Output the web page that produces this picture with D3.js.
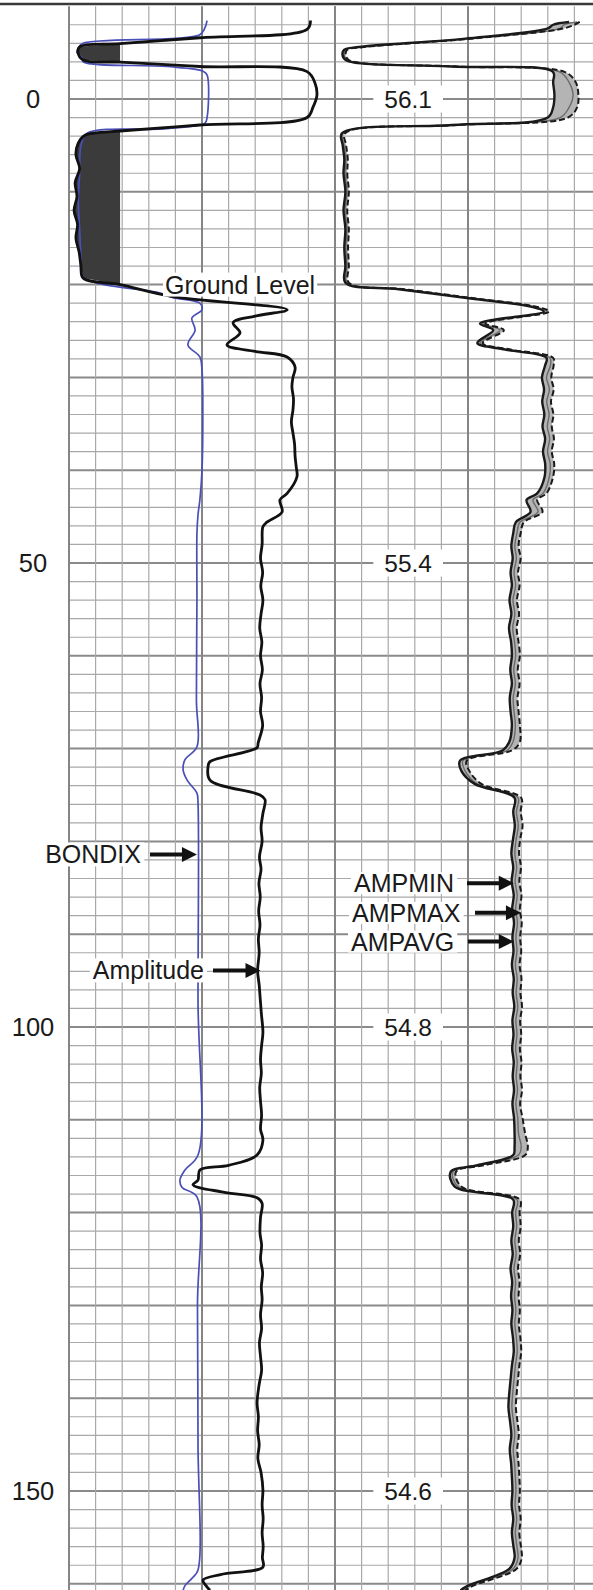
<!DOCTYPE html>
<html><head><meta charset="utf-8">
<script src="https://cdn.jsdelivr.net/npm/d3@7"></script>
<style>body{margin:0;background:#fff}svg{display:block}</style>
</head><body><svg id="c" width="593" height="1590"></svg>
<script>
// ---------------- data ----------------
const depthLabels = [0, 50, 100, 150];
const timeLabels = ["56.1", "55.4", "54.8", "54.6"];

// Amplitude (left track, black) – depth / value (0..100 scale)
const ampDepth = [
  -8.45, -7.5, -6.6, -5.97, -5.64, -5.0, -4.2, -3.97, -3.5, -2.95,
  -1.7, -0.4, 0.9, 2.0, 2.8, 3.45, 3.6, 3.9, 4.8, 6.0,
  7.5, 9.0, 10.5, 12.0, 13.5, 15.0, 16.5, 18.0, 19.3, 20.0,
  21.3, 22.7, 23.4, 24.1, 25.2, 26.5, 27.2, 27.8, 28.9, 30,
  31, 32.3, 33.5, 34.8, 36.0, 37.2, 38.5, 39.6, 40.7, 42.5,
  43.2, 44.5, 45.6, 46.1, 48, 49.5, 51, 52.5, 54, 55.5,
  57, 58.5, 60, 61.5, 63, 64.5, 66, 67.5, 69.4, 69.9,
  71.4, 71.9, 73.4, 75.0, 75.5, 77, 78.5, 80, 81.7, 83,
  84.5, 86, 87.5, 89, 90.5, 92, 93.9, 95.5, 97, 98.5,
  100.6, 102, 103.5, 105, 106.5, 108, 109.5, 111, 112.2, 113.8,
  114.9, 115.4, 116.5, 117.0, 117.8, 118.4, 119.0, 120.5, 122.2, 123.5,
  125, 126.5, 128, 129.4, 131, 132.5, 134, 135.5, 137, 138.5,
  140.5, 142, 143.5, 145, 146.5, 148, 149.9, 151.5, 153, 154.5,
  156, 157.2, 158.2, 159.0, 159.6, 160.2, 160.7
];
const amplitude = [
  90.8, 89.5, 49.2, 19.2, 4.1, 3.4, 5.3, 19.2, 49.2, 89.5,
  92.5, 93.2, 91.7, 89.5, 49.2, 19.2, 11.7, 6.0, 3.4, 2.6,
  4.0, 2.3, 3.0, 1.9, 3.2, 2.6, 3.8, 4.5, 5.3, 19.2,
  39.1, 82.0, 70.0, 61.7, 64.3, 59.4, 70.0, 82.0, 85.0, 84.2,
  83.8, 84.4, 84.2, 83.6, 84.2, 84.8, 85.0, 85.4, 85.7, 82.0,
  79.3, 80.1, 74.4, 72.9, 72.6, 72.0, 72.8, 72.1, 72.9, 72.2,
  71.7, 72.5, 72.0, 72.7, 71.8, 72.4, 72.0, 72.8, 71.1, 70.7,
  53.0, 52.3, 53.0, 71.8, 73.7, 72.9, 72.2, 72.6, 71.6, 72.2,
  71.4, 71.9, 71.3, 71.8, 71.2, 71.5, 70.9, 71.5, 71.9, 72.3,
  72.9, 72.4, 72.0, 72.3, 71.7, 72.0, 72.4, 72.0, 72.9, 70.7,
  60.0, 49.2, 48.5, 46.6, 58.0, 70.7, 72.6, 72.0, 71.8, 72.4,
  72.0, 72.8, 72.3, 72.6, 72.0, 72.4, 71.6, 72.0, 72.4, 71.5,
  70.7, 71.2, 70.9, 71.5, 71.0, 72.2, 72.9, 72.6, 73.0, 72.6,
  73.0, 72.7, 72.9, 57.0, 50.4, 51.5, 53.0
];

// BONDIX (left track, blue) – depth / value (0..1 scale)
const bondDepth = [
  -8.45, -7.6, -6.9, -6.0, -5.5, -5.0, -4.4, -4.0, -3.5, -3.0,
  -2.6, 2.0, 2.6, 3.2, 3.7, 5.0, 8.0, 11.0, 14.0, 17.0,
  19.15, 20.9, 21.4, 22.0, 22.7, 23.6, 24.9, 26.5, 27.8, 29.2,
  35.0, 40.0, 43.2, 44.8, 46.8, 54.0, 64.8, 69.8, 71.2, 72.3,
  73.4, 74.8, 75.9, 97.1, 113.8, 115.4, 116.5, 117.3, 118.3, 130,
  145, 158.5, 159.3, 160.2, 160.7
];
const bondix = [
  0.519, 0.51, 0.49, 0.053, 0.035, 0.03, 0.05, 0.053, 0.368, 0.504,
  0.519, 0.519, 0.511, 0.368, 0.068, 0.045, 0.04, 0.035, 0.04, 0.045,
  0.053, 0.342, 0.391, 0.492, 0.50, 0.462, 0.474, 0.447, 0.492, 0.50,
  0.503, 0.50, 0.492, 0.485, 0.481, 0.481, 0.479, 0.481, 0.436, 0.429,
  0.444, 0.481, 0.485, 0.485, 0.485, 0.436, 0.417, 0.425, 0.481, 0.483,
  0.485, 0.485, 0.466, 0.436, 0.429
];

// Right track – AMPMIN / AMPMAX / AMPAVG (0..100 scale)
const ampRDepth = [
  -8.3, -8.0, -7.6, -6.5, -5.6, -5.3, -4.8, -4.2, -3.5, -2.9,
  -1.8, -0.4, 0.9, 2.0, 2.8, 3.7, 5, 6.5, 8, 10,
  12, 14, 16, 18, 19.8, 20.5, 21.5, 22.4, 22.9, 24.2,
  24.9, 26.3, 27, 27.9, 28.7, 30, 31.3, 32.6, 34, 35.3,
  36.6, 38, 39.3, 40.7, 42.5, 43.2, 44.5, 45.6, 46.8, 48.2,
  49.5, 51, 52.4, 54, 55.5, 57, 58.5, 60, 61.5, 63,
  64.5, 66, 67.5, 69.3, 70.2, 71.3, 72.4, 73.8, 75.3, 76.8,
  78.3, 79.8, 81.3, 82.8, 84.3, 85.8, 87.3, 88.8, 90.3, 91.8,
  93.3, 94.8, 96.3, 97.8, 99.3, 100.8, 102.3, 103.8, 105.3, 106.8,
  108.3, 109.8, 111.5, 112.9, 113.8, 114.9, 115.6, 117.2, 118.6, 120,
  121.5, 123, 124.5, 126, 127.5, 129, 130.5, 132, 133.5, 135,
  136.5, 138, 139.5, 141, 142.5, 144, 145.5, 147, 148.5, 150,
  151.5, 153, 154.5, 156, 157.2, 158.4, 160.2, 160.7
];
const ampAvg = [
  91.0, 86.0, 84.6, 50.0, 10.0, 4.0, 3.4, 4.5, 45.0, 84.6,
  88.0, 89.5, 88.0, 84.6, 45.0, 3.0, 3.4, 4.1, 3.8, 4.5,
  3.8, 4.5, 4.1, 4.5, 4.5, 25, 52, 75, 79.7, 55.6,
  62.0, 54.5, 65, 80.8, 81.0, 79.5, 80.6, 79.6, 80.5, 79.8,
  80.7, 79.9, 80.9, 80.6, 78.2, 74.4, 76.3, 69.5, 68.4, 67.6,
  68.2, 67.3, 67.9, 66.9, 67.6, 66.8, 67.5, 67.9, 67.2, 67.8,
  67.0, 67.3, 67.8, 66.9, 64.7, 48.1, 48.9, 53.4, 68.8, 68.2,
  68.9, 68.1, 67.6, 68.3, 67.7, 68.5, 67.9, 68.6, 68.0, 68.4,
  67.8, 68.5, 68.1, 68.7, 68.0, 68.4, 67.9, 68.5, 68.1, 68.6,
  68.0, 68.7, 69.0, 70.0, 69.0, 54.5, 44.4, 46.2, 68.4, 67.9,
  68.3, 67.6, 68.1, 67.3, 67.9, 67.5, 68.0, 67.6, 68.2, 68.5,
  67.8, 67.3, 66.8, 66.5, 67.1, 67.6, 67.0, 67.5, 67.8, 68.0,
  67.7, 68.3, 67.8, 68.4, 68.8, 66.9, 50.8, 48.0
];
const ampMin = [
  88.0, 82.0, 80.0, 49.0, 9.0, 3.4, 2.8, 4.0, 44.0, 82.0,
  82.0, 82.5, 82.0, 80.0, 44.0, 2.6, 2.9, 3.5, 3.2, 3.9,
  3.2, 3.9, 3.5, 3.9, 3.9, 24, 51, 74, 78.5, 54.5,
  59.5, 53.5, 64, 79.5, 79.0, 77.8, 78.6, 77.9, 78.7, 78.0,
  79.0, 78.2, 79.0, 78.8, 76.0, 72.0, 73.5, 68.0, 67.0, 66.3,
  66.8, 66.0, 66.5, 65.6, 66.3, 65.4, 66.2, 66.5, 65.9, 66.5,
  65.7, 66.0, 66.5, 65.5, 63.0, 47.0, 47.5, 52.5, 67.5, 67.0,
  67.6, 66.9, 66.3, 67.0, 66.4, 67.2, 66.6, 67.3, 66.7, 67.1,
  66.5, 67.2, 66.8, 67.4, 66.7, 67.1, 66.6, 67.2, 66.8, 67.3,
  66.7, 67.3, 67.5, 67.5, 67.0, 53.5, 43.5, 45.0, 67.0, 66.6,
  67.0, 66.3, 66.8, 66.0, 66.6, 66.2, 66.7, 66.3, 66.9, 67.2,
  66.5, 66.0, 65.5, 65.2, 65.8, 66.3, 65.7, 66.2, 66.5, 66.7,
  66.4, 67.0, 66.5, 67.1, 67.5, 65.5, 50.0, 47.2
];
const ampMax = [
  92.0, 90.0, 86.0, 51.0, 11.0, 4.6, 4.0, 5.2, 46.0, 86.5,
  90.5, 91.5, 91.0, 87.5, 46.0, 3.8, 4.2, 4.8, 4.6, 5.2,
  4.6, 5.2, 4.9, 5.2, 5.2, 26, 53, 76, 80.5, 56.5,
  63.5, 55.5, 66, 82.0, 82.2, 81.3, 82.2, 81.2, 82.1, 81.5,
  82.3, 81.5, 82.4, 82.0, 79.5, 76.0, 78.0, 71.0, 69.8, 69.0,
  69.8, 68.8, 69.4, 68.4, 69.2, 68.3, 69.0, 69.5, 68.7, 69.4,
  68.6, 69.0, 69.5, 69.5, 66.5, 49.5, 50.5, 55.0, 70.0, 69.8,
  70.5, 69.6, 69.2, 69.9, 69.3, 70.1, 69.5, 70.2, 69.6, 70.0,
  69.4, 70.1, 69.7, 70.3, 69.6, 70.0, 69.5, 70.1, 69.7, 70.3,
  69.6, 70.5, 71.5, 72.5, 71.5, 56.0, 45.5, 47.5, 69.5, 69.4,
  69.8, 69.1, 69.6, 68.8, 69.4, 69.0, 69.5, 69.1, 69.7, 70.0,
  69.3, 68.8, 68.3, 68.0, 68.6, 69.1, 68.5, 69.0, 69.3, 69.5,
  69.2, 69.8, 69.3, 69.9, 70.2, 68.2, 52.0, 49.0
];

const fillThreshold = 19.2;

// ---------------- layout ----------------
const W = 593, H = 1590;
const svg = d3.select("#c");
const FONT = "'Liberation Sans', Arial, sans-serif";

const y = d3.scaleLinear().domain([-10, 161]).range([6.2, 6.2 + 171 * 9.28]);
const xL = d3.scaleLinear().domain([0, 100]).range([69, 335]);
const xB = d3.scaleLinear().domain([0, 1]).range([69, 335]);
const xR = d3.scaleLinear().domain([0, 100]).range([335, 601]);

svg.append("rect").attr("width", W).attr("height", H).attr("fill", "#fff");

const grid = svg.append("g");
d3.range(-8, 161, 2).forEach(d => {
  const major = d % 10 === 0;
  grid.append("line")
    .attr("x1", xL(0)).attr("x2", W)
    .attr("y1", y(d)).attr("y2", y(d))
    .attr("stroke", major ? "#8a8a8a" : "#a9a9a9")
    .attr("stroke-width", major ? 2 : 1.2);
});
[xL, xR].forEach(sc => {
  sc.ticks(10).forEach(t => {
    const major = t === 0 || t === 50 || t === 100;
    grid.append("line")
      .attr("x1", sc(t)).attr("x2", sc(t))
      .attr("y1", y(-10)).attr("y2", H)
      .attr("stroke", major ? "#858585" : "#a9a9a9")
      .attr("stroke-width", major ? 2 : 1.2);
  });
});
svg.append("line").attr("x1", 0).attr("x2", W).attr("y1", 4).attr("y2", 4)
  .attr("stroke", "#3a3a3a").attr("stroke-width", 2.5);

// ---------------- curves ----------------
const ampData = ampDepth.map((d, i) => ({ d, v: amplitude[i] }));
const bondData = bondDepth.map((d, i) => ({ d, v: bondix[i] }));
const rData = ampRDepth.map((d, i) => ({ d, avg: ampAvg[i], mn: ampMin[i], mx: ampMax[i] }));

svg.append("path").datum(ampData)
  .attr("d", d3.area().y(p => y(p.d))
    .x0(p => xL(Math.min(p.v, fillThreshold))).x1(xL(fillThreshold)))
  .attr("fill", "#3b3b3b");

svg.append("path").datum(bondData)
  .attr("d", d3.line().x(p => xB(p.v)).y(p => y(p.d)).curve(d3.curveCatmullRom.alpha(0.5)))
  .attr("fill", "none").attr("stroke", "#4a4fb8").attr("stroke-width", 1.7);

svg.append("path").datum(ampData)
  .attr("d", d3.line().x(p => xL(p.v)).y(p => y(p.d)).curve(d3.curveCatmullRom.alpha(0.5)))
  .attr("fill", "none").attr("stroke", "#111").attr("stroke-width", 2.8)
  .attr("stroke-linejoin", "round");

const rc = d3.curveCatmullRom.alpha(0.5);
svg.append("path").datum(rData)
  .attr("d", d3.area().y(p => y(p.d)).x0(p => xR(p.mn)).x1(p => xR(p.mx)).curve(rc))
  .attr("fill", "#b4b4b4");
svg.append("path").datum(rData)
  .attr("d", d3.line().x(p => xR(p.avg)).y(p => y(p.d)).curve(rc))
  .attr("fill", "none").attr("stroke", "#6a6a6a").attr("stroke-width", 1.4);
svg.append("path").datum(rData)
  .attr("d", d3.line().x(p => xR(p.mn)).y(p => y(p.d)).curve(rc))
  .attr("fill", "none").attr("stroke", "#1a1a1a").attr("stroke-width", 2.4)
  .attr("stroke-linejoin", "round");
svg.append("path").datum(rData)
  .attr("d", d3.line().x(p => xR(p.mx)).y(p => y(p.d)).curve(rc))
  .attr("fill", "none").attr("stroke", "#1a1a1a").attr("stroke-width", 2)
  .attr("stroke-dasharray", "6,3");

// ---------------- labels ----------------
function label(text, x, yy, anchor, size, padX, padY, bg) {
  const g = svg.append("g");
  const r = g.append("rect").attr("fill", "#fff");
  const t = g.append("text").attr("x", x).attr("y", yy)
    .attr("text-anchor", anchor).attr("dominant-baseline", "central")
    .attr("font-family", FONT).attr("font-size", size).attr("fill", "#1a1a1a")
    .text(text);
  if (bg) {
    const b = t.node().getBBox();
    r.attr("x", b.x - padX).attr("y", b.y - padY)
      .attr("width", b.width + 2 * padX).attr("height", b.height + 2 * padY);
  } else r.remove();
  return t;
}
function arrow(x1, x2, yy) {
  svg.append("line").attr("x1", x1).attr("x2", x2 - 12).attr("y1", yy).attr("y2", yy)
    .attr("stroke", "#111").attr("stroke-width", 4);
  svg.append("path")
    .attr("d", `M${x2},${yy}L${x2 - 15},${yy - 7.5}L${x2 - 15},${yy + 7.5}Z`)
    .attr("fill", "#111");
}

depthLabels.forEach(d => label(String(d), 33, y(d), "middle", 25.5, 0, 0, false));
depthLabels.forEach((d, i) => label(timeLabels[i], xR(27.5), y(d), "middle", 24.5, 11, 0, true));

label("Ground Level", xL(36.1), y(20.0), "start", 25, 2, -2, true);

label("BONDIX", 141, y(81.4), "end", 25, 3, -2, true);
arrow(150, xB(0.481), y(81.4));

label("Amplitude", 204, y(93.9), "end", 25, 3, -2, true);
arrow(213, xL(72.0), y(93.9));

label("AMPMIN", 354, y(84.5), "start", 25, 3, -3, true);
arrow(467, xR(67.2), y(84.5));
label("AMPMAX", 352, y(87.7), "start", 25, 3, -3, true);
arrow(475, xR(69.9), y(87.7));
label("AMPAVG", 351, y(90.8), "start", 25, 3, -3, true);
arrow(468, xR(67.2), y(90.8));
</script></body></html>
